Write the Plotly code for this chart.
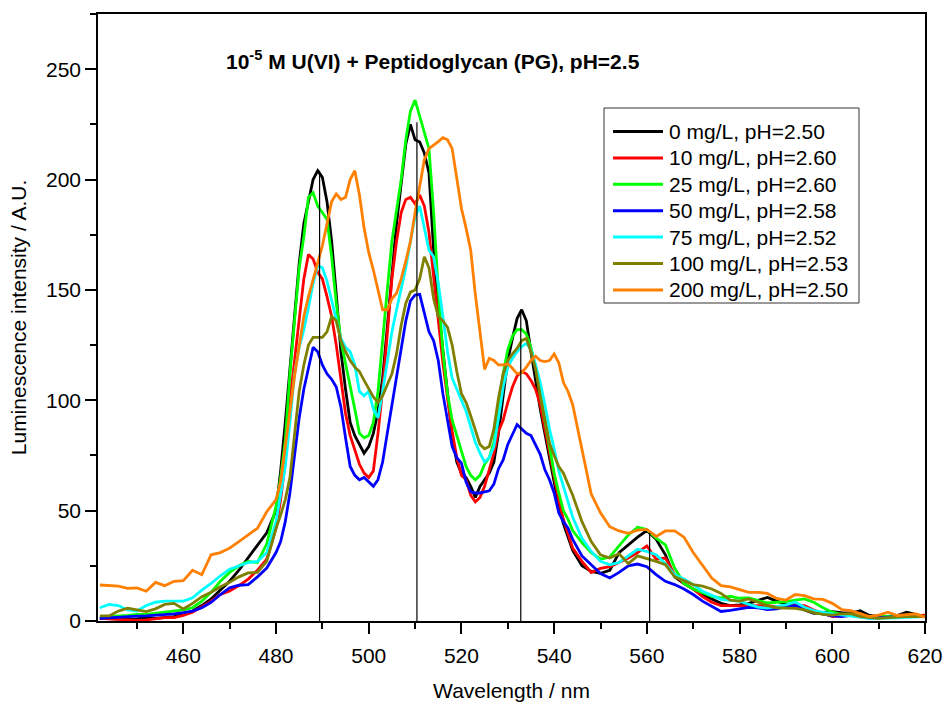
import plotly.graph_objects as go

wavelength = (list(range(442, 480, 2)) + list(range(480, 545, 1)) + list(range(546, 621, 2)))

i_0 = [1.2, 1, 1, 0.8, 1, 1.5, 1.2, 1.5, 2, 3, 4.5, 7, 10, 14, 18, 23, 28.7, 34, 40,
       50, 68, 90, 114, 137, 162, 180, 190, 200, 204, 201, 190, 172, 148, 122, 105, 90, 84, 80, 76,
       79, 85, 95, 110, 133, 156, 180, 198, 216, 225, 218, 217, 212, 203, 168, 142, 122, 102, 84, 72,
       67, 65, 61, 56, 61, 64, 67, 72, 85, 102, 118, 128, 137, 141, 136, 122, 108, 96, 85, 74,
       63, 52, 44, 38, 32,
       25, 22.5, 21.6, 23, 31, 34.5, 38, 41, 37, 30, 20, 17, 14.5, 12, 10, 8, 7, 7.3, 8, 9.5,
       10.7, 9, 7.5, 7.3, 5, 3.5, 4, 4.2, 3.8, 3.5, 4.7, 2.5, 2, 2, 2.5, 4, 3, 2]
i_10 = [1.2, 1, 0.8, 0.5, 0.3, 0.5, 1, 1.5, 1.5, 2.5, 4, 6.5, 9, 12, 13.6, 16, 19, 23, 28,
        42, 55, 72, 100, 118, 138, 155, 166, 164, 158, 155, 147, 138, 125, 110, 94, 84, 77, 71, 67,
        65, 68, 85, 105, 130, 155, 172, 185, 191, 192, 189, 193, 188, 176, 156, 135, 117, 101, 86, 74,
        66, 64, 57, 54, 56, 61, 68, 76, 86, 91, 99, 106, 111, 113, 112, 109, 105, 98, 87, 76,
        66, 55, 46, 40, 33,
        27, 22, 23.8, 24.6, 26.5, 28.5, 31, 34, 28, 28.5, 21, 17, 14.5, 11, 8.5, 7, 7, 6.8, 6.8, 7,
        7, 6.5, 6.5, 7, 7, 5, 3.5, 2, 2.3, 2.7, 2.2, 1.7, 1.8, 2, 2.2, 2.5, 2.7, 2.7]
i_25 = [1.5, 2, 2.3, 2.5, 3, 3, 3.5, 4, 4.5, 5, 6, 9, 13, 18, 22, 25, 27, 26.5, 35,
        52, 65, 82, 112, 138, 160, 174, 192, 194, 188, 185, 182, 165, 144, 127, 117, 106, 96, 85, 83,
        84, 90, 104, 128, 150, 172, 185, 200, 218, 231, 236, 229, 222, 214, 185, 150, 122, 103, 91, 84,
        76, 70, 66, 64, 66, 71, 74, 81, 96, 112, 123, 129, 132, 132, 130, 124, 115, 103, 91, 79,
        67, 58, 50, 46, 41,
        35.5, 31, 28, 29, 34, 39, 42.5, 41.5, 37.5, 34.5, 24, 17, 14.5, 12.8, 11.2, 10.5, 11.2, 10.3, 10.5, 9.2,
        8.2, 8.5, 8.8, 9.5, 10, 8.5, 6, 4, 3, 2.7, 2.3, 2, 2, 2.2, 2.3, 2.5, 2.6, 2]
i_50 = [1.2, 1.5, 1.8, 2, 2.2, 2.3, 2.5, 2.8, 3.2, 3.8, 4.5, 6, 8.5, 12, 15, 16.2, 16.5, 20, 24,
        31, 36, 45, 58, 75, 92, 105, 115, 124, 122, 116, 112, 109.5, 106, 97, 83, 70, 66, 64, 65,
        63, 61, 64, 72, 85, 98, 112, 124, 136, 145, 147.7, 148, 140, 131, 127, 118, 103, 90, 79, 74,
        71.5, 63, 58.5, 58, 58, 58.5, 59, 62, 69, 73, 80, 84.5, 89, 87, 85, 84, 80, 75.5, 68.5, 64,
        58, 49, 45, 42, 37,
        29.5, 25.5, 21.5, 19.5, 22, 25, 25.8, 24.6, 21, 18, 16.5, 14.5, 12, 9, 6.5, 4.3, 4.8, 5.5, 6.2, 6,
        5.2, 5.5, 6.5, 7, 6, 4, 3, 2.3, 2, 2.6, 2, 1.3, 1.5, 1.8, 2, 2.2, 2.3, 2]
i_75 = [6, 7.5, 7, 5, 4.5, 7, 8.5, 9, 9, 9, 10.5, 14, 17, 20.5, 23.5, 25, 26.5, 27, 31,
        45, 58, 70, 90, 112, 124, 132, 142, 153, 161, 160, 154, 145, 136, 128, 124, 122, 116, 104, 102,
        104, 96, 92, 104, 118, 131, 141, 150.5, 160, 172, 183, 188, 178, 168, 165, 153, 138, 122, 110, 105,
        100, 95, 88, 81, 76, 72, 74, 79, 92, 106, 115, 119, 122, 124.3, 125.8, 123, 116, 108, 98, 87,
        78, 68, 61, 54, 47,
        37.5, 31.5, 27, 25.5, 26.5, 29.5, 32.5, 31.5, 30, 26, 21, 19, 16.5, 13.5, 11.5, 9.8, 9.3, 9, 7.5, 6.3,
        5.8, 6.5, 7.3, 8.6, 6.2, 4.7, 3.8, 3.2, 2.8, 2.2, 1.5, 1.2, 1.2, 1.2, 1.4, 1.7, 1.9, 2]
i_100 = [2.3, 2.3, 4.5, 5.8, 5, 4.3, 5.5, 7.5, 8, 5.5, 8, 11, 13, 15.5, 17.5, 20, 21.8, 22, 27,
         42, 48, 55, 65, 85, 104, 116, 125, 128.5, 128.5, 128.5, 131, 138, 136, 127, 122, 118, 115, 113, 109,
         105, 101.5, 99, 102, 107, 112, 121, 134, 144, 149, 150, 155, 165, 160, 146, 138, 136, 133, 125, 113,
         103, 99, 93, 86, 80, 78, 79, 87, 101, 112, 118, 121, 123.5, 127, 128, 122, 114, 102, 91, 80.5,
         75, 70, 67, 62, 57,
         45, 36, 30, 28.5, 30.5, 26, 29.5, 28.3, 27, 25.5, 20, 18.3, 16.5, 15.8, 14.5, 12.5, 9.5, 9, 10, 8.5,
         7, 6, 5.7, 5.7, 5, 3.8, 3, 2.7, 3.2, 3.3, 2, 1.5, 1.2, 1.5, 1.8, 2, 2, 2]
i_200 = [16.3, 16, 15.8, 14.8, 15, 13.5, 17.5, 16, 18, 18.3, 23, 21, 30, 31, 33, 36, 39, 42, 49.5,
         55, 63, 80, 95, 111, 125, 138, 147, 155, 163, 170, 180, 190, 193.5, 191, 192, 200, 204, 193, 178,
         167, 159, 150, 141, 141, 146, 148.5, 155, 163, 172, 185, 197, 209, 214, 215.5, 217.2, 219, 218, 214, 201,
         187, 178, 168, 148, 130, 114, 119, 118, 116, 116, 116.5, 114.5, 112, 112.5, 115, 118, 120, 118, 117.5, 118,
         121, 117, 108, 104, 98,
         78, 57.5, 49, 42.7, 40.8, 39.7, 41.2, 41.5, 38.3, 40.8, 40.8, 38, 31, 25, 19.5, 16, 15.5, 14.2, 13, 13,
         12.5, 10.2, 9.5, 12, 11.5, 10, 9.8, 8, 5.2, 4.7, 3.5, 2, 2.7, 4, 2.5, 3, 3.2, 1.7]

series_names = ["0 mg/L, pH=2.50", "10 mg/L, pH=2.60", "25 mg/L, pH=2.60", "50 mg/L, pH=2.58",
                "75 mg/L, pH=2.52", "100 mg/L, pH=2.53", "200 mg/L, pH=2.50"]
series_values = [i_0, i_10, i_25, i_50, i_75, i_100, i_200]
series_colors = ["#000000", "#FF0000", "#00FF00", "#0000FF", "#00FFFF", "#808000", "#FF8000"]

peak_wl = [489.4, 510.4, 532.8, 560.6]
peak_val = [204, 226, 140, 40]

x_ticks = [460, 480, 500, 520, 540, 560, 580, 600, 620]
y_ticks = [0, 50, 100, 150, 200, 250]

FONT = "Liberation Sans, Arial, sans-serif"

# plot area in pixels (for paper-coordinate placement of legend/title)
L, R, T, B = 98, 925, 14, 621
def px(xp):
    return (xp - L) / (R - L)
def py(yp):
    return (B - yp) / (B - T)

fig = go.Figure()
for name, vals, col in zip(series_names, series_values, series_colors):
    fig.add_trace(go.Scatter(x=wavelength, y=vals, mode="lines", name=name,
                             line=dict(color=col, width=2.8), showlegend=False))

drop_x, drop_y = [], []
for w, v in zip(peak_wl, peak_val):
    drop_x += [w, w, None]
    drop_y += [0, v, None]
fig.add_trace(go.Scatter(x=drop_x, y=drop_y, mode="lines", showlegend=False,
                         line=dict(color="#000000", width=1.2), hoverinfo="skip"))

axis_common = dict(showline=True, linecolor="black", linewidth=1.6, mirror=True,
                   ticks="outside", tickcolor="black", tickwidth=1.6, ticklen=11,
                   showgrid=False, zeroline=False, automargin=False,
                   tickfont=dict(family=FONT, size=21, color="black"))

fig.update_layout(
    width=945, height=702,
    margin=dict(l=L, r=945 - R, t=T, b=702 - B),
    paper_bgcolor="white", plot_bgcolor="white",
    font=dict(family=FONT, color="black"),
    xaxis=dict(range=[441.6, 620], tickvals=x_ticks, ticklabelstandoff=4,
               minor=dict(dtick=10, tick0=440, ticks="outside", ticklen=6, tickwidth=1.6, tickcolor="black"),
               title=dict(text="Wavelength / nm", font=dict(family=FONT, size=21), standoff=18),
               **axis_common),
    yaxis=dict(range=[0, 275], tickvals=y_ticks,
               minor=dict(dtick=25, tick0=0, ticks="outside", ticklen=6, tickwidth=1.6, tickcolor="black"),
               title=dict(text="Luminescence intensity / A.U.", font=dict(family=FONT, size=21), standoff=14),
               **axis_common),
    showlegend=False,
)

# legend box drawn by hand to match the reference geometry
box_l, box_r, box_t, box_b = 604, 859, 108, 303
fig.add_shape(type="rect", xref="paper", yref="paper",
              x0=px(box_l), x1=px(box_r), y0=py(box_b), y1=py(box_t),
              line=dict(color="#333333", width=1), fillcolor="white", layer="above")
row0, row_step = 131.5, 26.4
for k, (name, col) in enumerate(zip(series_names, series_colors)):
    yc = row0 + k * row_step
    fig.add_shape(type="line", xref="paper", yref="paper",
                  x0=px(613), x1=px(663), y0=py(yc), y1=py(yc),
                  line=dict(color=col, width=3), layer="above")
    fig.add_annotation(text=name, xref="paper", yref="paper", x=px(667), y=py(yc),
                       xanchor="left", yanchor="middle", showarrow=False,
                       font=dict(family=FONT, size=21, color="black"))

fig.add_annotation(text="<b>10<sup>-5</sup> M U(VI) + Peptidoglycan (PG), pH=2.5</b>",
                   xref="paper", yref="paper", x=px(433), y=py(60),
                   xanchor="center", yanchor="middle", showarrow=False,
                   font=dict(family=FONT, size=21, color="black"))

fig.write_html("out.html")
